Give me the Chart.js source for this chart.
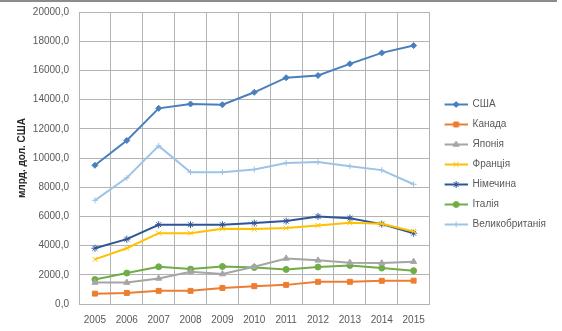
<!DOCTYPE html>
<html lang="uk">
<head>
<meta charset="UTF-8">
<title>ВВП</title>
<style>
  body { margin: 0; background: #fff; }
  #wrap { position: relative; width: 562px; height: 331px; }
  #frame { position: absolute; left: 0; top: 0; width: 557px; height: 2px; background: #8c8c8c; }
</style>
</head>
<body>
<div id="wrap">
  <canvas id="chart" width="562" height="331"></canvas>
  <div id="frame"></div>
</div>
<script src="https://cdn.jsdelivr.net/npm/chart.js"></script>
<script>
const years = ['2005', '2006', '2007', '2008', '2009', '2010', '2011', '2012', '2013', '2014', '2015'];

const usa     = [9500, 11200, 13400, 13700, 13650, 14500, 15500, 15650, 16450, 17200, 17700];
const canada  = [710, 760, 900, 900, 1100, 1220, 1310, 1520, 1520, 1590, 1600];
const japan   = [1470, 1470, 1750, 2210, 2050, 2550, 3120, 2990, 2830, 2800, 2900];
const france  = [3060, 3820, 4850, 4850, 5150, 5130, 5200, 5380, 5560, 5500, 4970];
const germany = [3820, 4440, 5430, 5430, 5430, 5540, 5680, 6000, 5880, 5470, 4850];
const italy   = [1680, 2120, 2550, 2390, 2570, 2500, 2370, 2530, 2640, 2460, 2280];
const uk      = [7100, 8640, 10830, 9030, 9030, 9220, 9660, 9720, 9430, 9170, 8200];

const FONT = '"Liberation Sans", Arial, sans-serif';
const TXT = '#595959';

const series = [
  { label: 'США',            data: usa,     color: '#4a7fbd', style: 'rectRot',  r: 3 },
  { label: 'Канада',         data: canada,  color: '#ed7d31', style: 'rect',     r: 3.5 },
  { label: 'Японія',         data: japan,   color: '#a5a5a5', style: 'triangle', r: 3.5 },
  { label: 'Франція',        data: france,  color: '#ffc000', style: 'crossRot', r: 3.5 },
  { label: 'Німечина',       data: germany, color: '#2f5597', style: 'star',     r: 3.5 },
  { label: 'Італія',         data: italy,   color: '#70ad47', style: 'circle',   r: 3 },
  { label: 'Великобританія', data: uk,      color: '#9dc3e6', style: 'cross',    r: 3 }
];

// legend icons: empty gap on the left, then line with the marker in the middle
const GAP = 5;
function makeIcon(s) {
  const c = document.createElement('canvas');
  c.width = 23 + GAP; c.height = 9;
  const ctx = c.getContext('2d');
  ctx.strokeStyle = s.color;
  ctx.lineWidth = 2;
  ctx.beginPath(); ctx.moveTo(GAP, 4.5); ctx.lineTo(GAP + 23, 4.5); ctx.stroke();
  ctx.fillStyle = s.color;
  ctx.lineWidth = 1;
  Chart.helpers.drawPoint(ctx, { pointStyle: s.style, radius: s.r, borderWidth: 1, rotation: 0 }, GAP + 11.5, 4.5);
  return c;
}
const icons = series.map(makeIcon);

const datasets = series.map(s => ({
  label: s.label,
  data: s.data,
  borderColor: s.color,
  backgroundColor: s.color,
  borderWidth: 2,
  pointStyle: s.style,
  pointRadius: s.r,
  pointBorderWidth: 1,
  tension: 0
}));

new Chart(document.getElementById('chart'), {
  type: 'line',
  data: { labels: years, datasets: datasets },
  options: {
    responsive: false,
    animation: false,
    layout: { padding: { left: 14, right: 6, top: -7, bottom: -5 } },
    plugins: {
      tooltip: { enabled: false },
      legend: {
        position: 'right',
        labels: {
          usePointStyle: true,
          pointStyleWidth: 23 + GAP,
          padding: 10,
          color: TXT,
          font: { family: FONT, size: 10 },
          generateLabels: chart =>
            Chart.defaults.plugins.legend.labels.generateLabels(chart).map((l, i) => Object.assign(l, { pointStyle: icons[i] }))
        }
      }
    },
    scales: {
      x: {
        offset: true,
        grid: { color: '#b3b3b3', offset: true, drawTicks: false },
        border: { color: '#b3b3b3' },
        ticks: { color: TXT, font: { family: FONT, size: 10 }, padding: 10, maxRotation: 0 }
      },
      y: {
        min: 0,
        max: 20000,
        afterFit: s => { s.width = 65; s.paddingTop = 12; s.paddingBottom = 0; },
        grid: { color: '#b3b3b3', drawTicks: false },
        border: { color: '#b3b3b3' },
        ticks: {
          stepSize: 2000,
          color: TXT,
          font: { family: FONT, size: 10 },
          padding: 10,
          callback: v => v.toFixed(1).replace('.', ',')
        },
        title: {
          display: true,
          text: 'млрд. дол. США',
          color: '#262626',
          font: { family: FONT, size: 10, weight: 'bold' },
          padding: { top: 2, bottom: 0 }
        }
      }
    }
  }
});
</script>
</body>
</html>
